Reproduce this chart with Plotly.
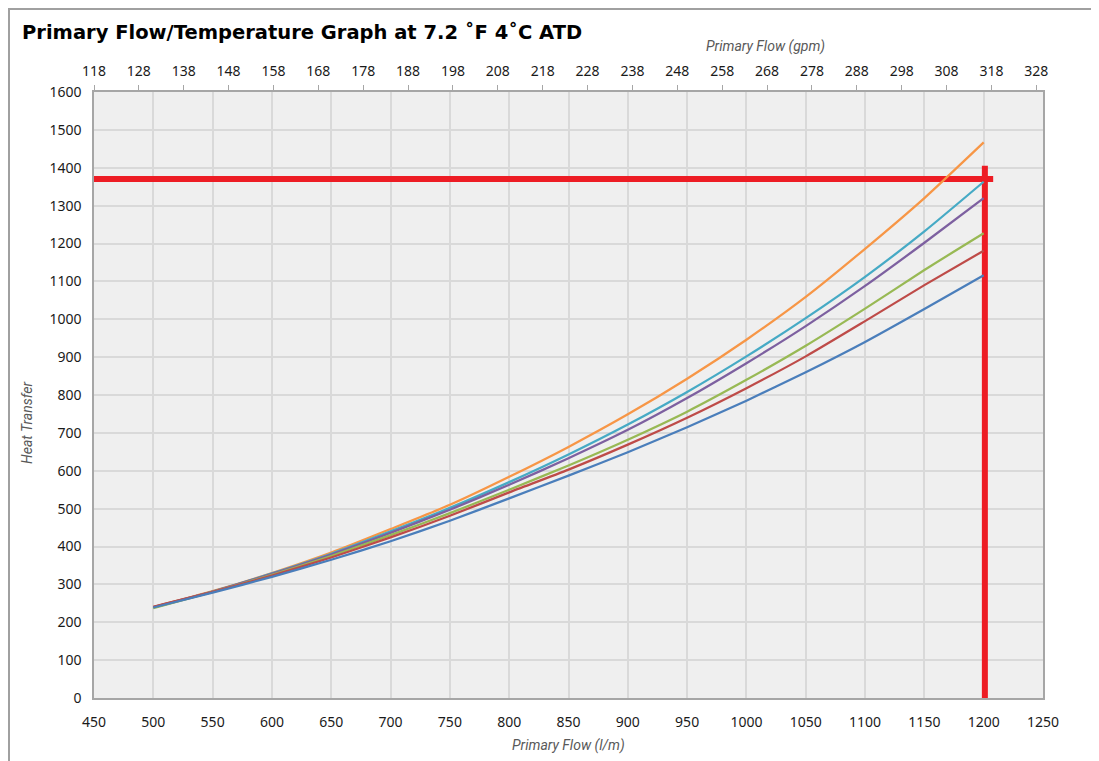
import plotly.graph_objects as go

# ---------------- data ----------------
flow_lpm = [500, 550, 600, 650, 700, 750, 800, 850, 900, 950, 1000, 1050, 1100, 1150, 1200]

heat_orange = [240, 282, 330, 384, 446, 510, 584, 663, 749, 843, 946, 1059, 1186, 1320, 1467]
heat_cyan   = [239, 281, 329, 381, 440, 502, 570, 643, 722, 808, 902, 1003, 1112, 1232, 1363]
heat_purple = [240, 281, 328, 379, 436, 497, 563, 633, 708, 792, 884, 982, 1088, 1202, 1320]
heat_green  = [237, 280, 325, 375, 430, 488, 550, 614, 682, 756, 840, 930, 1028, 1130, 1227]
heat_red    = [241, 280, 323, 371, 424, 481, 543, 603, 669, 740, 818, 902, 995, 1090, 1181]
heat_blue   = [239, 278, 320, 365, 414, 468, 527, 587, 649, 715, 785, 860, 940, 1027, 1116]

lpm_ticks = list(range(450, 1251, 50))
gpm_ticks = list(range(118, 329, 10))
heat_ticks = list(range(0, 1601, 100))

# red reference lines (duty point)
ref_h_x = [450, 1208]
ref_h_y = [1370, 1370]
ref_v_x = [1201, 1201]
ref_v_y = [0, 1405]

title_text = "Primary Flow/Temperature Graph at 7.2 \u02daF 4\u02daC ATD"

# page body has an 8px default margin; compensate so screen positions match
OFF = 8

# ---------------- figure ----------------
fig = go.Figure()

RED = "#ED1C24"
fig.add_trace(go.Scatter(x=ref_h_x, y=ref_h_y, mode="lines",
                         line=dict(color=RED, width=6), showlegend=False, hoverinfo="skip"))
fig.add_trace(go.Scatter(x=ref_v_x, y=ref_v_y, mode="lines",
                         line=dict(color=RED, width=6), showlegend=False, hoverinfo="skip"))

series = [
    ("Orange", heat_orange, "#F79646"),
    ("Cyan", heat_cyan, "#46AAC5"),
    ("Purple", heat_purple, "#7D60A0"),
    ("Green", heat_green, "#98B954"),
    ("Red", heat_red, "#BE4B48"),
    ("Blue", heat_blue, "#4A7EBB"),
]
for name, vals, col in series:
    fig.add_trace(go.Scatter(x=flow_lpm, y=vals, mode="lines", name=name,
                             line=dict(color=col, width=2.25, shape="spline", smoothing=0.6),
                             showlegend=False))

AX = "#A6A6A6"
GRID = "#D9D9D9"
TICKFONT = dict(family="Noto Sans, Open Sans, sans-serif", size=14, color="#1a1a1a")

L, T, PW, PH = 94 - OFF, 92 - OFF, 949, 606
fig.update_layout(
    width=1099, height=761,
    margin=dict(l=L, r=1099 - L - PW, t=T, b=761 - T - PH, autoexpand=False),
    paper_bgcolor="white",
    plot_bgcolor="#EFEFEF",
    showlegend=False,
    title=dict(text=title_text, x=(22 - OFF)/1099, xanchor="left", xref="container",
               y=1-(32 - OFF)/761, yanchor="middle", yref="container",
               font=dict(family="DejaVu Sans, sans-serif", size=19.5, color="black", weight="bold")),
    xaxis=dict(range=[450, 1250], tickvals=lpm_ticks, showgrid=True, gridcolor=GRID, gridwidth=1.5,
               showline=True, linecolor=AX, linewidth=1.5, mirror=True, ticks="", zeroline=False,
               tickfont=TICKFONT, ticklabelstandoff=10),
    xaxis2=dict(range=[118, 329.5], tickvals=gpm_ticks, overlaying="x", side="top", anchor="y",
                showgrid=False, showline=True, linecolor=AX, linewidth=1.5, ticks="outside",
                ticklen=5, tickcolor=AX, tickwidth=1, zeroline=False, tickfont=TICKFONT,
                ticklabelstandoff=4),
    yaxis=dict(range=[0, 1600], tickvals=heat_ticks, showgrid=True, gridcolor=GRID, gridwidth=1.5,
               showline=True, linecolor=AX, linewidth=1.5, mirror=True, ticks="", zeroline=False,
               tickfont=TICKFONT, ticklabelstandoff=8),
)

# invisible trace to bind top axis
fig.add_trace(go.Scatter(x=[gpm_ticks[0], gpm_ticks[-1]], y=[None, None], xaxis="x2", yaxis="y",
                         mode="lines", showlegend=False, hoverinfo="skip"))

AXTITLE = dict(family="Roboto, Noto Sans, sans-serif", size=14, color="#595959")
fig.add_annotation(text="<i>Primary Flow (gpm)</i>", xref="paper", yref="paper",
                   x=(765-94)/949, y=(698-46)/606, xanchor="center", yanchor="middle",
                   showarrow=False, font=AXTITLE)
fig.add_annotation(text="<i>Primary Flow (l/m)</i>", xref="paper", yref="paper",
                   x=(568-94)/949, y=(698-745)/606, xanchor="center", yanchor="middle",
                   showarrow=False, font=AXTITLE)
fig.add_annotation(text="<i>Heat Transfer</i>", xref="paper", yref="paper",
                   x=(27-94)/949, y=(698-423)/606, xanchor="center", yanchor="middle",
                   textangle=-90, showarrow=False, font=AXTITLE)

# outer chart frame (left and top edges visible in the reference)
fig.add_shape(type="rect", xref="paper", yref="paper",
              x0=(9-94)/949, x1=(1120-94)/949, y0=(698-790)/606, y1=(698-9)/606,
              line=dict(color="#A0A0A0", width=2), fillcolor="rgba(0,0,0,0)", layer="below")

fig.write_html("out.html")
